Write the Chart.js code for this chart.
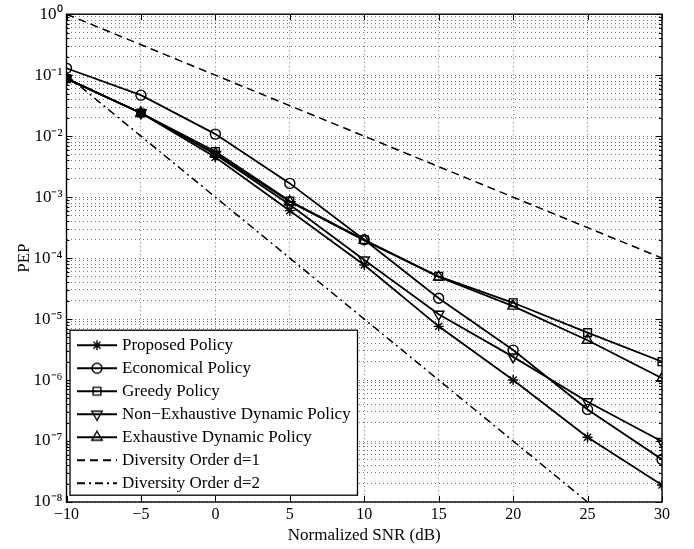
<!DOCTYPE html>
<html><head><meta charset="utf-8">
<script src="https://cdn.jsdelivr.net/npm/chart.js@4.4.0/dist/chart.umd.min.js"></script>
<style>html,body{margin:0;padding:0;background:#fff;}#wrap{width:694px;height:549px;}</style>
</head><body><div id="wrap"><canvas id="c" width="694" height="549"></canvas></div>
<script>
// ---- data ----
const snr = [-10, -5, 0, 5, 10, 15, 20, 25, 30];
const proposed      = [0.088, 0.024, 0.0045, 6.0e-4, 7.7e-5, 7.6e-6, 1.0e-6, 1.15e-7, 1.9e-8];
const economical    = [0.13, 0.047, 0.0108, 1.68e-3, 2.0e-4, 2.2e-5, 3.1e-6, 3.3e-7, 5.0e-8];
const greedy        = [0.088, 0.024, 0.0056, 8.6e-4, 2.0e-4, 5.0e-5, 1.85e-5, 6.0e-6, 2.0e-6];
const nonExhaustive = [0.088, 0.024, 0.0050, 7.5e-4, 9.3e-5, 1.2e-5, 2.4e-6, 4.4e-7, 9.8e-8];
const exhaustive    = [0.088, 0.024, 0.0052, 8.4e-4, 1.95e-4, 4.9e-5, 1.63e-5, 4.5e-6, 1.07e-6];
const diversity1    = [1, 0.316, 0.1, 0.0316, 0.01, 0.00316, 0.001, 3.16e-4, 1e-4];
const diversity2    = [0.1, 0.01, 1e-3, 1e-4, 1e-5, 1e-6, 1e-7, 1e-8, null];
const seriesNames = ['Proposed Policy', 'Economical Policy', 'Greedy Policy',
  'Non\u2212Exhaustive Dynamic Policy', 'Exhaustive Dynamic Policy',
  'Diversity Order d=1', 'Diversity Order d=2'];
const xTickValues = [-10, -5, 0, 5, 10, 15, 20, 25, 30];
const xTickLabels = ['\u221210', '\u22125', '0', '5', '10', '15', '20', '25', '30'];
const yDecades = [1e-8, 1e-7, 1e-6, 1e-5, 1e-4, 1e-3, 1e-2, 1e-1, 1];
const yTickLabels = ['10\u207B\u2078', '10\u207B\u2077', '10\u207B\u2076', '10\u207B\u2075',
  '10\u207B\u2074', '10\u207B\u00B3', '10\u207B\u00B2', '10\u207B\u00B9', '10\u2070'];
const minorSteps = [1, 2, 3, 4, 5, 6, 7, 8, 9];
const xTitle = 'Normalized SNR (dB)';
const yTitle = 'PEP';

// ---- styles ----
const FONT = 'Liberation Serif, Times New Roman, serif';
const styles = [
  {shape: 'star', r: 5, rot: 0},
  {shape: 'circle', r: 5, rot: 0},
  {shape: 'rect', r: 5.5, rot: 0},
  {shape: 'triangle', r: 6, rot: 180},
  {shape: 'triangle', r: 6, rot: 0},
  {shape: null, dash: [8, 5]},
  {shape: null, dash: [8, 4, 2, 4]}
];
const allSeries = [proposed, economical, greedy, nonExhaustive, exhaustive, diversity1, diversity2];

function drawMarker(ctx, shape, x, y, r, rot) {
  ctx.beginPath();
  if (shape === 'star') {
    const d = r * Math.SQRT1_2;
    ctx.moveTo(x - r, y); ctx.lineTo(x + r, y);
    ctx.moveTo(x, y - r); ctx.lineTo(x, y + r);
    ctx.moveTo(x - d, y - d); ctx.lineTo(x + d, y + d);
    ctx.moveTo(x - d, y + d); ctx.lineTo(x + d, y - d);
  } else if (shape === 'circle') {
    ctx.arc(x, y, r, 0, Math.PI * 2);
  } else if (shape === 'rect') {
    const s = r * Math.SQRT1_2;
    ctx.rect(x - s, y - s, 2 * s, 2 * s);
  } else if (shape === 'triangle') {
    let a = rot * Math.PI / 180;
    ctx.moveTo(x + Math.sin(a) * r, y - Math.cos(a) * r);
    a += 2 * Math.PI / 3; ctx.lineTo(x + Math.sin(a) * r, y - Math.cos(a) * r);
    a += 2 * Math.PI / 3; ctx.lineTo(x + Math.sin(a) * r, y - Math.cos(a) * r);
    ctx.closePath();
  }
  ctx.stroke();
}

function makeIcon(st) {
  const cv = document.createElement('canvas');
  cv.width = 44; cv.height = 16;
  const c = cv.getContext('2d');
  c.strokeStyle = '#000';
  c.lineWidth = 1.8;
  c.setLineDash(st.dash || []);
  c.beginPath(); c.moveTo(2, 8); c.lineTo(42, 8); c.stroke();
  c.setLineDash([]);
  if (st.shape) { c.lineWidth = 1.4; drawMarker(c, st.shape, 22, 8, st.r, st.rot); }
  return cv;
}
const icons = styles.map(makeIcon);

const datasets = allSeries.map((arr, i) => {
  const st = styles[i];
  return {
    label: seriesNames[i],
    data: snr.map((x, j) => ({x: x, y: arr[j]})),
    borderColor: '#000',
    borderWidth: st.shape ? 1.8 : 1.5,
    borderDash: st.dash || [],
    pointStyle: st.shape || false,
    pointRadius: st.shape ? st.r : 0,
    pointRotation: st.rot || 0,
    pointBorderColor: '#000',
    pointBorderWidth: 1.4,
    pointBackgroundColor: 'rgba(0,0,0,0)',
    fill: false,
    tension: 0,
    spanGaps: false
  };
});

function isDecade(v) {
  const l = Math.log10(v);
  return Math.abs(l - Math.round(l)) < 1e-6;
}

const framePlugin = {
  id: 'frame',
  afterLayout(chart) {
    const lg = chart.legend, ca = chart.chartArea;
    if (lg) {
      lg.left = ca.left + 8; lg.top = ca.top + 316.5;
      lg.right = ca.right; lg.bottom = ca.bottom;
    }
  },
  afterDraw(chart) {
    const ctx = chart.ctx, ca = chart.chartArea;
    const xs = chart.scales.x, ys = chart.scales.y;
    ctx.save();
    ctx.strokeStyle = '#000';
    ctx.lineWidth = 1;
    ctx.beginPath();
    xTickValues.forEach(v => {
      const px = Math.round(xs.getPixelForValue(v)) + 0.5;
      ctx.moveTo(px, ca.bottom); ctx.lineTo(px, ca.bottom - 6);
      ctx.moveTo(px, ca.top); ctx.lineTo(px, ca.top + 6);
    });
    ys.ticks.forEach(t => {
      const py = Math.round(ys.getPixelForValue(t.value)) + 0.5;
      const len = isDecade(t.value) ? 6 : 3;
      ctx.moveTo(ca.left, py); ctx.lineTo(ca.left + len, py);
      ctx.moveTo(ca.right, py); ctx.lineTo(ca.right - len, py);
    });
    ctx.stroke();
    ctx.lineWidth = 1.4;
    ctx.strokeRect(ca.left, ca.top, ca.right - ca.left, ca.bottom - ca.top);
    // legend box
    const bx = ca.left + 3.5, by = ca.top + 316, bw = 287.5, bh = 165;
    ctx.fillStyle = '#fff';
    ctx.fillRect(bx, by, bw, bh);
    ctx.lineWidth = 1.3;
    ctx.strokeRect(bx, by, bw, bh);
    ctx.restore();
    if (chart.legend) chart.legend.draw();
  }
};

new Chart(document.getElementById('c'), {
  type: 'line',
  data: {datasets: datasets},
  plugins: [framePlugin],
  options: {
    responsive: false,
    animation: false,
    devicePixelRatio: 1,
    layout: {padding: {left: 0, top: 14, right: 32, bottom: 0}},
    plugins: {
      tooltip: {enabled: false},
      legend: {
        position: 'chartArea',
        align: 'start',
        labels: {
          usePointStyle: true,
          pointStyleWidth: 33,
          padding: 6,
          color: '#000',
          font: {family: FONT, size: 17},
          generateLabels: (chart) => chart.data.datasets.map((ds, i) => ({
            text: ds.label, pointStyle: icons[i], datasetIndex: i, hidden: false,
            lineWidth: 0, strokeStyle: 'rgba(0,0,0,0)', fillStyle: 'rgba(0,0,0,0)', fontColor: '#000'
          }))
        }
      }
    },
    scales: {
      x: {
        type: 'linear', min: -10, max: 30,
        afterBuildTicks: s => { s.ticks = xTickValues.map(v => ({value: v})); },
        afterFit: s => { s.height = 47; },
        ticks: {
          autoSkip: false, maxRotation: 0, padding: 3, color: '#000',
          font: {family: FONT, size: 16},
          callback: (v) => { const i = xTickValues.indexOf(v); return i >= 0 ? xTickLabels[i] : ''; }
        },
        grid: {color: 'rgba(0,0,0,0.55)', lineWidth: 1, drawTicks: false, borderDash: [1, 3]},
        border: {display: false, dash: [1, 3]},
        title: {display: true, text: xTitle, color: '#000', font: {family: FONT, size: 17}, padding: {top: 0, bottom: 3}}
      },
      y: {
        type: 'logarithmic', min: 1e-8, max: 1,
        afterBuildTicks: s => {
          const t = [];
          for (let d = 0; d < yDecades.length - 1; d++) minorSteps.forEach(k => t.push({value: yDecades[d] * k}));
          t.push({value: yDecades[yDecades.length - 1]});
          s.ticks = t;
        },
        afterFit: s => { s.width = 66.5; },
        ticks: {
          autoSkip: false, padding: 4, color: '#000',
          font: {family: FONT, size: 17},
          callback: (v) => {
            if (!isDecade(v)) return '';
            const e = Math.round(Math.log10(v));
            const i = yDecades.findIndex(d => Math.round(Math.log10(d)) === e);
            return i >= 0 ? yTickLabels[i] : '';
          }
        },
        grid: {color: 'rgba(0,0,0,0.55)', lineWidth: 1, drawTicks: false, borderDash: [1, 3]},
        border: {display: false, dash: [1, 3]},
        title: {display: true, text: yTitle, color: '#000', font: {family: FONT, size: 17}, padding: {top: 14, bottom: 0}}
      }
    }
  }
});
</script></body></html>
